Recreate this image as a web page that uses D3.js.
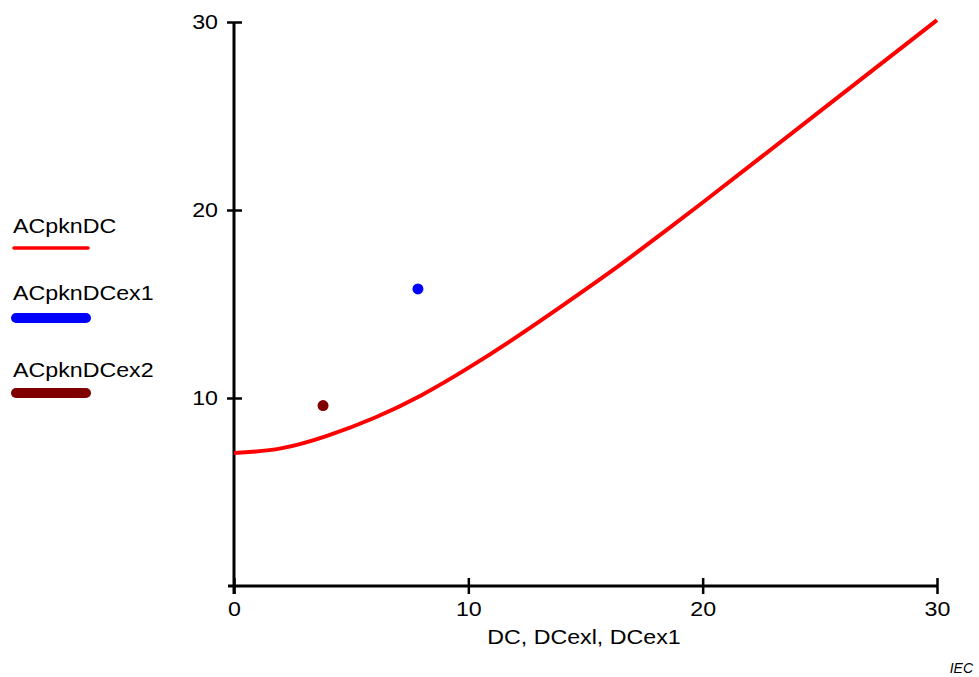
<!DOCTYPE html>
<html>
<head>
<meta charset="utf-8">
<script src="https://cdn.jsdelivr.net/npm/d3@7"></script>
<style>
  html, body { margin: 0; padding: 0; background: #fff; }
  svg { display: block; }
  text { font-family: "Liberation Sans", Arial, sans-serif; fill: #000; }
</style>
</head>
<body>
<svg id="chart" width="979" height="677"></svg>
<script>
// ---- data ----
const dcValues = [0, 2, 4, 6, 8, 10, 12, 14, 16, 18, 20, 22, 25, 30];
const acpknDC  = [7.07, 7.32, 8.0, 8.95, 10.15, 11.6, 13.2, 14.9, 16.65, 18.5, 20.4, 22.33, 25.25, 30.1];
const ex1Point = [7.85, 15.8];
const ex2Point = [3.8, 9.6];
const xTicks = [0, 10, 20, 30];
const yTicks = [10, 20, 30];
const seriesNames = ["ACpknDC", "ACpknDCex1", "ACpknDCex2"];
const seriesColors = ["#ff0000", "#0000ff", "#800000"];
const xTitle = "DC, DCexl, DCex1";

// ---- drawing ----
const FONT = 20, STRETCH = 1.16;
function widen(sel) {
  sel.each(function () {
    const w = this.getComputedTextLength();
    d3.select(this).attr("textLength", w * STRETCH).attr("lengthAdjust", "spacingAndGlyphs");
  });
}

const svg = d3.select("#chart");
const x = d3.scaleLinear().domain([0, 30]).range([234, 937]);
const y = d3.scaleLinear().domain([0, 30]).range([586, 22]);

// x axis
const gx = svg.append("g").attr("transform", `translate(0,${y(0)})`)
  .call(d3.axisBottom(x).tickValues(xTicks).tickSize(8).tickPadding(8).tickFormat(d3.format("d")));
gx.select(".domain").remove();
gx.append("line").attr("x1", 228).attr("x2", x(30)).attr("y1", 0).attr("y2", 0)
  .attr("stroke", "#000").attr("stroke-width", 3);
gx.selectAll(".tick line").attr("y1", -8).attr("y2", 8).attr("stroke", "#000").attr("stroke-width", 2.5);
gx.selectAll(".tick text").attr("font-size", FONT).style("font-family", "'Liberation Sans', Arial, sans-serif").attr("fill", "#000").call(widen);

// y axis
const gy = svg.append("g").attr("transform", `translate(${x(0)},0)`)
  .call(d3.axisLeft(y).tickValues(yTicks).tickSize(7).tickPadding(9).tickFormat(d3.format("d")));
gy.select(".domain").remove();
gy.append("line").attr("x1", 0).attr("x2", 0).attr("y1", y(30)).attr("y2", y(0) + 8)
  .attr("stroke", "#000").attr("stroke-width", 3);
gy.selectAll(".tick line").attr("x1", -7).attr("x2", 8).attr("stroke", "#000").attr("stroke-width", 2.5);
gy.selectAll(".tick text").attr("font-size", FONT).style("font-family", "'Liberation Sans', Arial, sans-serif").attr("fill", "#000").call(widen);

// axis title
svg.append("text").attr("x", 584).attr("y", 644).attr("text-anchor", "middle")
  .attr("font-size", FONT).text(xTitle).call(widen);

// IEC
svg.append("text").attr("x", 973).attr("y", 673).attr("text-anchor", "end")
  .attr("font-size", 14).attr("font-style", "italic").text("IEC");

// curve
const line = d3.line().x((d, i) => x(dcValues[i])).y(d => y(d)).curve(d3.curveNatural);
svg.append("path").datum(acpknDC).attr("d", line)
  .attr("fill", "none").attr("stroke", seriesColors[0]).attr("stroke-width", 4);

// points
svg.append("circle").attr("cx", x(ex1Point[0])).attr("cy", y(ex1Point[1])).attr("r", 5.5).attr("fill", seriesColors[1]);
svg.append("circle").attr("cx", x(ex2Point[0])).attr("cy", y(ex2Point[1])).attr("r", 5.5).attr("fill", seriesColors[2]);

// legend
const legendTextY = [233, 300, 377];
const legendLineY = [248, 318, 393];
const legendWidths = [3.5, 10, 10];
seriesNames.forEach((name, i) => {
  svg.append("text").attr("x", 13).attr("y", legendTextY[i]).attr("font-size", FONT).text(name).call(widen);
  svg.append("line").attr("x1", i === 0 ? 14 : 16).attr("x2", i === 0 ? 88 : 86)
    .attr("y1", legendLineY[i]).attr("y2", legendLineY[i])
    .attr("stroke", seriesColors[i]).attr("stroke-width", legendWidths[i])
    .attr("stroke-linecap", "round");
});
</script>
</body>
</html>
